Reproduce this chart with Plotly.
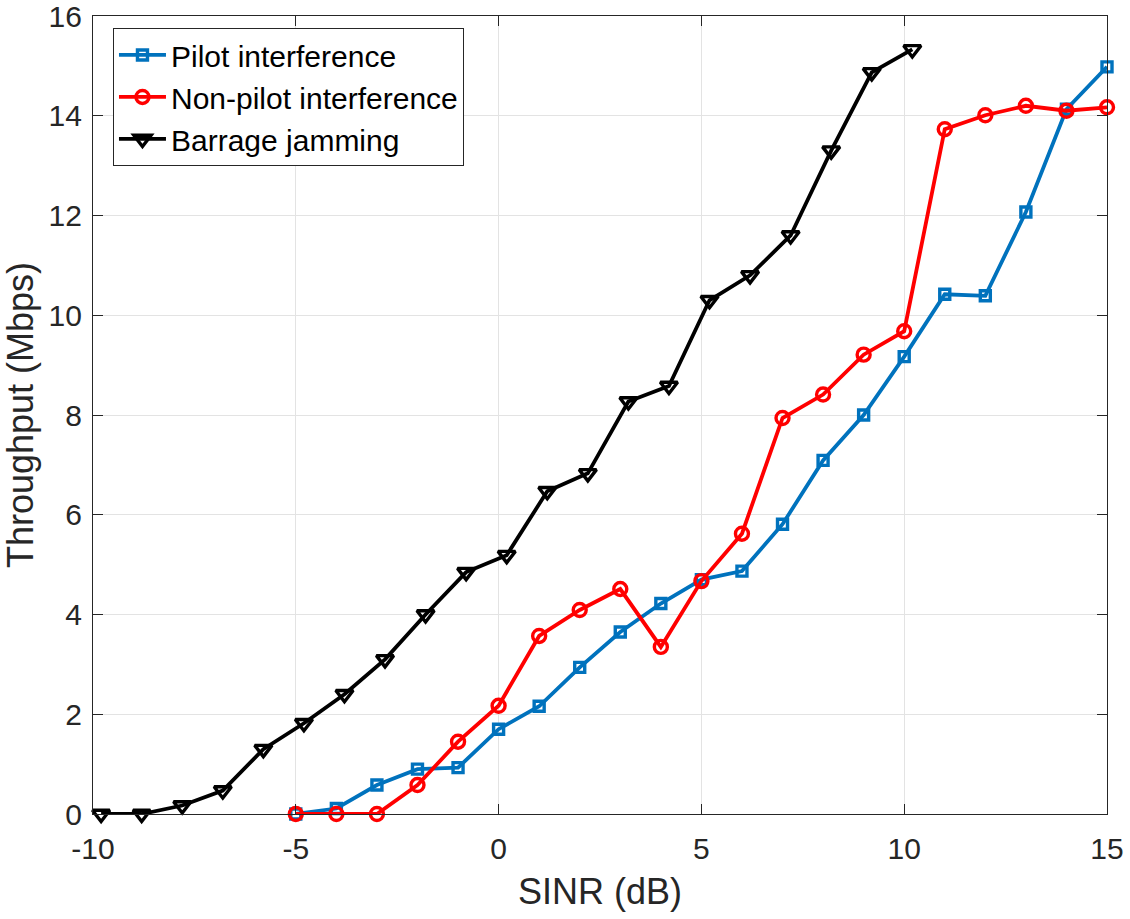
import plotly.graph_objects as go

# ---- data ----
sinr_int = [-5, -4, -3, -2, -1, 0, 1, 2, 3, 4, 5, 6, 7, 8, 9, 10, 11, 12, 13, 14, 15]
pilot = [0.0, 0.11, 0.58, 0.90, 0.93, 1.70, 2.16, 2.94, 3.65, 4.22, 4.70, 4.87, 5.81, 7.09, 8.00,
         9.17, 10.42, 10.39, 12.07, 14.13, 14.98]
nonpilot = [0.0, 0.0, 0.0, 0.58, 1.45, 2.17, 3.57, 4.09, 4.51, 3.35, 4.67, 5.62, 7.94, 8.41, 9.21,
            9.68, 13.73, 14.01, 14.20, 14.10, 14.17]
sinr_barrage = [-9.8, -8.8, -7.8, -6.8, -5.8, -4.8, -3.8, -2.8, -1.8, -0.8, 0.2, 1.2, 2.2, 3.2, 4.2,
                5.2, 6.2, 7.2, 8.2, 9.2, 10.2]
barrage = [0.0, 0.0, 0.17, 0.47, 1.30, 1.82, 2.40, 3.10, 4.00, 4.85, 5.19, 6.47, 6.83, 8.27, 8.58,
           10.30, 10.80, 11.60, 13.30, 14.87, 15.33]

names = ["Pilot interference", "Non-pilot interference", "Barrage jamming"]
x_ticks = [-10, -5, 0, 5, 10, 15]
y_ticks = [0, 2, 4, 6, 8, 10, 12, 14, 16]

FONT = "Liberation Sans, Arial, Helvetica, sans-serif"
TXT = "#262626"
LW = 3.8

fig = go.Figure()
fig.add_trace(go.Scatter(
    x=sinr_int, y=pilot, name=names[0], mode="lines+markers",
    line=dict(color="#0072BD", width=LW),
    marker=dict(symbol="square-open", size=10, color="#0072BD", line=dict(width=3.4, color="#0072BD")),
    cliponaxis=False))
fig.add_trace(go.Scatter(
    x=sinr_int, y=nonpilot, name=names[1], mode="lines+markers",
    line=dict(color="#FF0000", width=LW),
    marker=dict(symbol="circle-open", size=13, color="#FF0000", line=dict(width=3.4, color="#FF0000")),
    cliponaxis=False))
fig.add_trace(go.Scatter(
    x=sinr_barrage, y=barrage, name=names[2], mode="lines+markers",
    line=dict(color="#000000", width=LW),
    marker=dict(symbol="triangle-down-open", size=15, color="#000000", line=dict(width=3.4, color="#000000")),
    cliponaxis=False))

axis_common = dict(
    showline=True, linecolor=TXT, linewidth=1.3, mirror="ticks",
    ticks="inside", ticklen=10, tickwidth=1.2, tickcolor=TXT,
    showgrid=True, gridcolor="#E3E3E3", gridwidth=1,
    zeroline=False, ticklabeloverflow="allow", automargin=False,
    tickfont=dict(family=FONT, size=30, color=TXT),
)

fig.update_xaxes(
    range=[-10, 15], tickmode="array", tickvals=x_ticks,
    ticktext=[str(v) for v in x_ticks],
    title=dict(text="SINR (dB)", font=dict(family=FONT, size=36, color=TXT), standoff=14),
    ticklabelstandoff=8,
    **axis_common)
fig.update_yaxes(
    range=[0, 16], tickmode="array", tickvals=y_ticks,
    ticktext=[str(v) for v in y_ticks],
    title=dict(text="Throughput (Mbps)", font=dict(family=FONT, size=36, color=TXT), standoff=10),
    ticklabelstandoff=4,
    **axis_common)

fig.update_layout(
    width=1130, height=919,
    margin=dict(l=93, r=23, t=16, b=105, autoexpand=False),
    paper_bgcolor="white", plot_bgcolor="white",
    font=dict(family=FONT, color=TXT),
    legend=dict(
        x=0.0197, y=0.985, xanchor="left", yanchor="top",
        bgcolor="white", bordercolor=TXT, borderwidth=1,
        font=dict(family=FONT, size=30, color="#000000"),
        itemwidth=47, tracegroupgap=0,
    ),
)

fig.write_html("out.html")
